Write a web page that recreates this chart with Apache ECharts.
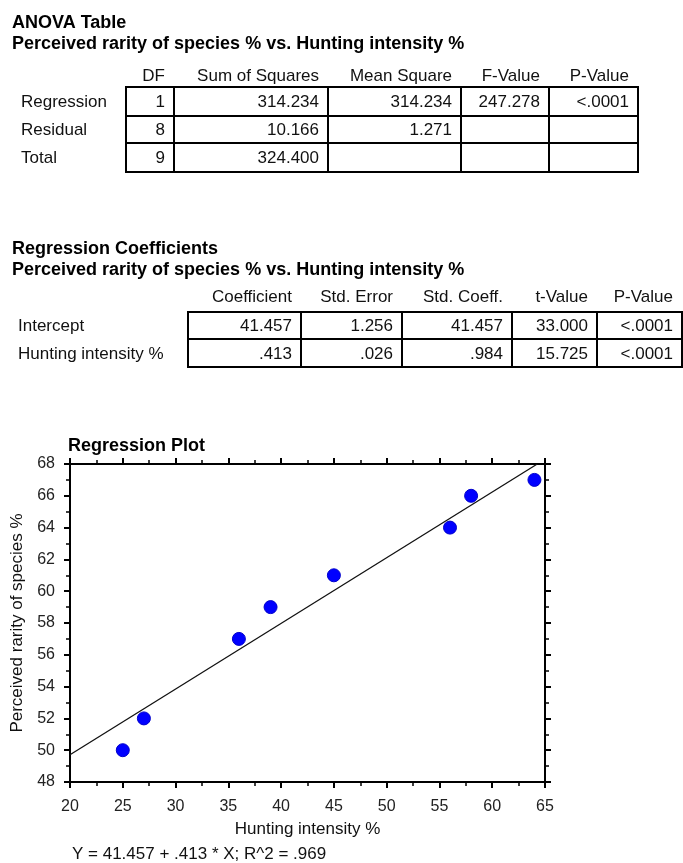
<!DOCTYPE html>
<html>
<head>
<meta charset="utf-8">
<script src="https://cdn.jsdelivr.net/npm/echarts@6/dist/echarts.min.js"></script>
<style>
html,body{margin:0;padding:0;background:#fff;}
#chart{width:683px;height:863px;}
</style>
</head>
<body>
<div id="chart"></div>
<script>
// ---------- DATA ----------
var anovaTitle = 'ANOVA Table';
var subTitle = 'Perceived rarity of species % vs. Hunting intensity %';
var anovaColumns = ['DF', 'Sum of Squares', 'Mean Square', 'F-Value', 'P-Value'];
var anovaRows = ['Regression', 'Residual', 'Total'];
var anovaDF = ['1', '8', '9'];
var anovaSS = ['314.234', '10.166', '324.400'];
var anovaMS = ['314.234', '1.271', ''];
var anovaF = ['247.278', '', ''];
var anovaP = ['<.0001', '', ''];

var coefTitle = 'Regression Coefficients';
var coefColumns = ['Coefficient', 'Std. Error', 'Std. Coeff.', 't-Value', 'P-Value'];
var coefRows = ['Intercept', 'Hunting intensity %'];
var coefCoefficient = ['41.457', '.413'];
var coefStdError = ['1.256', '.026'];
var coefStdCoeff = ['41.457', '.984'];
var coefTValue = ['33.000', '15.725'];
var coefPValue = ['<.0001', '<.0001'];

var plotTitle = 'Regression Plot';
var xName = 'Hunting intensity %';
var yName = 'Perceived rarity of species %';
var huntingIntensity = [25, 27, 36, 39, 45, 56, 58, 64];
var perceivedRarity = [50, 52, 57, 59, 61, 64, 66, 67];
var equationText = 'Y = 41.457 + .413 * X; R^2 = .969';
var xTicks = {min: 20, max: 65, step: 5};
var yTicks = {min: 48, max: 68, step: 2};

// ---------- LAYOUT ----------
var FONT = "'Liberation Sans', Arial, sans-serif";
var layout = {
  anova: {titleY: 23, subY: 44, headY: 76, labelX: 21,
          xs: [126, 174, 328, 461, 549, 638], ys: [87, 116, 143, 172]},
  coef: {titleY: 249, subY: 270, headY: 297, labelX: 18,
         xs: [188, 301, 402, 512, 597, 682], ys: [312, 339, 367]}
};

function txt(s, x, y, align, bold, size) {
  return {
    type: 'text', silent: true,
    style: {
      text: s, x: x, y: y,
      align: align, verticalAlign: 'middle',
      textAlign: align, textVerticalAlign: 'middle',
      font: (bold ? 'bold ' : '') + size + 'px ' + FONT,
      fill: bold ? '#000' : '#111'
    }
  };
}

function buildTable(L, title, cols, rows, colsData, els) {
  els.push(txt(title, 12, L.titleY, 'left', true, 18));
  els.push(txt(subTitle, 12, L.subY, 'left', true, 18));
  var pad = 9;
  for (var c = 0; c < cols.length; c++) {
    els.push(txt(cols[c], L.xs[c + 1] - pad, L.headY, 'right', false, 17));
  }
  for (var r = 0; r < rows.length; r++) {
    var yc = (L.ys[r] + L.ys[r + 1]) / 2 + 1;
    els.push(txt(rows[r], L.labelX, yc, 'left', false, 17));
    for (var c2 = 0; c2 < cols.length; c2++) {
      els.push({
        type: 'rect', silent: true,
        shape: {x: L.xs[c2], y: L.ys[r], width: L.xs[c2 + 1] - L.xs[c2], height: L.ys[r + 1] - L.ys[r]},
        style: {fill: 'none', stroke: '#000', lineWidth: 2}
      });
      var v = colsData[c2][r];
      if (v !== '') els.push(txt(v, L.xs[c2 + 1] - pad, yc, 'right', false, 17));
    }
  }
}

var graphics = [];
buildTable(layout.anova, anovaTitle, anovaColumns, anovaRows,
  [anovaDF, anovaSS, anovaMS, anovaF, anovaP], graphics);
buildTable(layout.coef, coefTitle, coefColumns, coefRows,
  [coefCoefficient, coefStdError, coefStdCoeff, coefTValue, coefPValue], graphics);
graphics.push(txt(plotTitle, 68, 446, 'left', true, 18));
graphics.push(txt(equationText, 72, 854, 'left', false, 17));

// regression line from the fitted coefficients
var b0 = parseFloat(coefCoefficient[0]);
var b1 = parseFloat(coefCoefficient[1]);
var xEnd = Math.min(xTicks.max, (yTicks.max - b0) / b1);
var fitLine = [[xTicks.min, b0 + b1 * xTicks.min], [xEnd, b0 + b1 * xEnd]];
var scatterData = huntingIntensity.map(function (x, i) { return [x, perceivedRarity[i]]; });

function axisCommon(extra) {
  var base = {
    type: 'value',
    axisLine: {show: true, onZero: false, lineStyle: {color: '#000', width: 2}},
    axisTick: {show: true, length: 6, lineStyle: {color: '#000', width: 2}},
    minorTick: {show: true, splitNumber: 2, length: 4, lineStyle: {color: '#000', width: 1.5}},
    splitLine: {show: false},
    minorSplitLine: {show: false}
  };
  for (var k in extra) base[k] = extra[k];
  return base;
}

var chart = echarts.init(document.getElementById('chart'), null, {renderer: 'canvas'});
chart.setOption({
  backgroundColor: '#fff',
  animation: false,
  grid: {left: 70, right: 138, top: 464, bottom: 81, containLabel: false},
  xAxis: [
    axisCommon({
      position: 'bottom', min: xTicks.min, max: xTicks.max, interval: xTicks.step,
      axisLabel: {color: '#222', fontSize: 16, fontFamily: FONT, margin: 17},
      name: xName, nameLocation: 'middle', nameGap: 39,
      nameTextStyle: {color: '#111', fontSize: 17, fontFamily: FONT}
    }),
    axisCommon({
      position: 'top', min: xTicks.min, max: xTicks.max, interval: xTicks.step,
      axisLabel: {show: false}
    })
  ],
  yAxis: [
    axisCommon({
      position: 'left', min: yTicks.min, max: yTicks.max, interval: yTicks.step,
      axisLabel: {color: '#222', fontSize: 16, fontFamily: FONT, margin: 15},
      name: yName, nameLocation: 'middle', nameGap: 42,
      nameTextStyle: {color: '#111', fontSize: 17, fontFamily: FONT}
    }),
    axisCommon({
      position: 'right', min: yTicks.min, max: yTicks.max, interval: yTicks.step,
      axisLabel: {show: false}
    })
  ],
  series: [
    {
      type: 'line', data: fitLine, xAxisIndex: 0, yAxisIndex: 0,
      showSymbol: false, silent: true,
      lineStyle: {color: '#111', width: 1.3}
    },
    {
      type: 'scatter', data: scatterData, xAxisIndex: 0, yAxisIndex: 0,
      symbol: 'circle', symbolSize: 13, silent: true,
      itemStyle: {color: '#0000ff', borderColor: '#0000cc', borderWidth: 1, opacity: 1}
    }
  ],
  graphic: {elements: graphics}
});
</script>
</body>
</html>
